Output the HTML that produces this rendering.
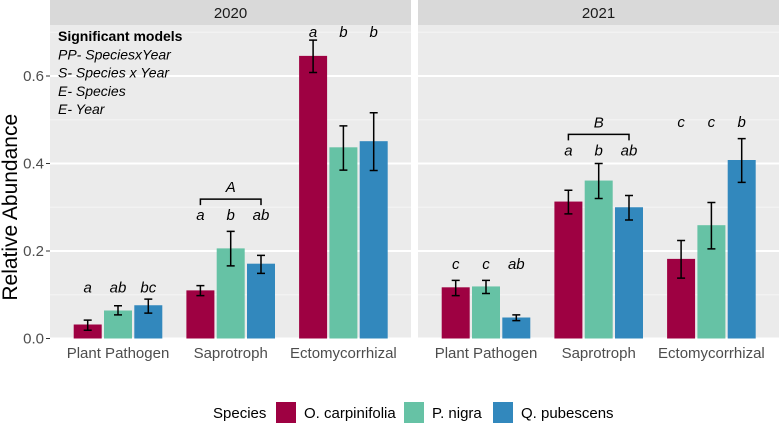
<!DOCTYPE html>
<html><head><meta charset="utf-8"><style>
body{margin:0;background:#fff}
svg{display:block;font-family:"Liberation Sans",Arial,sans-serif}
</style></head><body>
<svg id="chart" width="779" height="425" xmlns="http://www.w3.org/2000/svg"></svg>
<script>
const years = ["2020","2021"];
const categories = ["Plant Pathogen","Saprotroph","Ectomycorrhizal"];
const species = ["O. carpinifolia","P. nigra","Q. pubescens"];
const colors = ["#9e0142","#66c2a5","#3288bd"];
// values [category][species]
const means2020 = [[0.032,0.064,0.076],[0.110,0.206,0.171],[0.646,0.437,0.451]];
const lo2020 = [[0.019,0.054,0.058],[0.098,0.166,0.149],[0.608,0.385,0.384]];
const hi2020 = [[0.042,0.075,0.090],[0.121,0.245,0.190],[0.682,0.486,0.516]];
const means2021 = [[0.117,0.119,0.048],[0.313,0.361,0.300],[0.182,0.259,0.408]];
const lo2021 = [[0.098,0.103,0.041],[0.285,0.320,0.271],[0.138,0.205,0.357]];
const hi2021 = [[0.133,0.133,0.054],[0.339,0.400,0.327],[0.224,0.311,0.457]];
const letters2020 = [["a","ab","bc"],["a","b","ab"],["a","b","b"]];
const letters2021 = [["c","c","ab"],["a","b","ab"],["c","c","b"]];
const letterY2020 = [0.117,0.282,0.701];
const letterY2021 = [0.170,0.430,0.495];
const groupLabels = ["A","B"];
const groupCat = [1,1];
const yTicks = [0.0,0.2,0.4,0.6];
const yTickLabels = ["0.0","0.2","0.4","0.6"];

const NS="http://www.w3.org/2000/svg";
const svg=document.getElementById('chart');
function mk(tag,attrs,parent){const e=document.createElementNS(NS,tag);for(const k in attrs)e.setAttribute(k,attrs[k]);(parent||svg).appendChild(e);return e;}
const panelX=[50,418], panelW=361, topY=25, bottomY=338.5, y0=338.5, kScale=437.5;
function y(v){return y0-v*kScale;}
function xc(p,i){return panelX[p]+68+i*112.7;}
function xb(p,i,s){return xc(p,i)+(s-1)*30.3;}
const allMeans=[means2020,means2021], allLo=[lo2020,lo2021], allHi=[hi2020,hi2021], allLet=[letters2020,letters2021], allLY=[letterY2020,letterY2021];

const yt=mk('text',{x:17,y:y(0.3),'font-size':21,fill:'#000','text-anchor':'middle',transform:`rotate(-90 17 ${y(0.3)})`});
yt.textContent="Relative Abundance";



for(let p=0;p<2;p++){
  const g=mk('g',{});
  
  
  mk('rect',{x:panelX[p],y:topY,width:panelW,height:bottomY-topY,fill:'#ebebeb'},g);
  const st=mk('rect',{x:panelX[p],y:0,width:panelW,height:25,fill:'#d9d9d9'},g);
  
  
  const stt=mk('text',{x:panelX[p]+panelW/2,y:18,'font-size':15,fill:'#1a1a1a','text-anchor':'middle'},g);
  stt.textContent=years[p];
  
  
  for(let v=0.1;v<0.75;v+=0.2) mk('line',{x1:panelX[p],x2:panelX[p]+panelW,y1:y(v),y2:y(v),stroke:'#f5f5f5','stroke-width':1},g);
  yTicks.forEach(v=>mk('line',{x1:panelX[p],x2:panelX[p]+panelW,y1:y(v),y2:y(v),stroke:'#fff','stroke-width':2},g));
  categories.forEach((c,i)=>{
    const t=mk('text',{x:xc(p,i),y:358,'font-size':15,fill:'#4d4d4d','text-anchor':'middle'},g);
    t.textContent=c;
    
    
    for(let s=0;s<3;s++){
      const m=allMeans[p][i][s], cx=xb(p,i,s);
      const b=mk('rect',{x:cx-14,y:y(m),width:28,height:y0-y(m),fill:colors[s]},g);
      
      
      const lo=y(allLo[p][i][s]), hi=y(allHi[p][i][s]);
      const eb=mk('path',{d:`M${cx-4},${hi}H${cx+4}M${cx},${hi}V${lo}M${cx-4},${lo}H${cx+4}`,stroke:'#000','stroke-width':1.5,fill:'none'},g);
      
      
      const lt=mk('text',{x:cx,y:y(allLY[p][i])+5,'font-size':15,'font-style':'italic',fill:'#000','text-anchor':'middle'},g);
      lt.textContent=allLet[p][i][s];
      
      
    }
  });
  const gi=groupCat[p], by=y(allLY[p][gi])-16;
  const br=mk('path',{d:`M${xb(p,gi,0)},${by+6}V${by}H${xb(p,gi,2)}V${by+6}`,stroke:'#000','stroke-width':1.5,fill:'none'},g);
  
  
  const gl=mk('text',{x:xc(p,gi),y:by-7,'font-size':15,'font-style':'italic',fill:'#000','text-anchor':'middle'},g);
  gl.textContent=groupLabels[p];
  
  
}
yTicks.forEach((v,i)=>{
  mk('line',{x1:46,x2:50,y1:y(v),y2:y(v),stroke:'#333','stroke-width':1});
  const t=mk('text',{x:44,y:y(v)+5,'font-size':15,fill:'#4d4d4d','text-anchor':'end'});
  t.textContent=yTickLabels[i];
  
  
});
const ann=["Significant models","PP- SpeciesxYear","S- Species x Year","E- Species","E- Year"];
ann.forEach((s,i)=>{
  const t=mk('text',{x:58,y:41+i*18.3,'font-size':14,fill:'#000','font-weight':i==0?'bold':'normal','font-style':i==0?'normal':'italic'});
  t.textContent=s;
  
  
});
const lgT=mk('text',{x:213,y:418,'font-size':15,fill:'#000'});
lgT.textContent="Species";


const lgX=[276,404,493];
species.forEach((s,i)=>{
  const r=mk('rect',{x:lgX[i],y:402,width:20,height:21,fill:colors[i]});
  
  
  const t=mk('text',{x:lgX[i]+28,y:418,'font-size':15,fill:'#000'});
  t.textContent=s;
  
  
});
</script>
</body></html>
